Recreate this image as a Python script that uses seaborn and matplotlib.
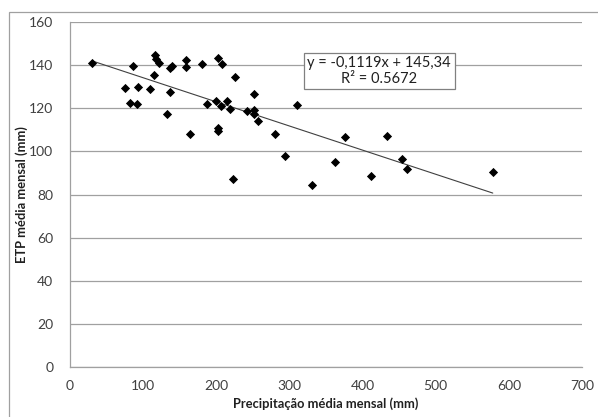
import numpy as np
import pandas as pd
import matplotlib
matplotlib.use('Agg')
import matplotlib.pyplot as plt
import seaborn as sns
from matplotlib.patches import Rectangle

# precipitação média mensal (mm) x ETP média mensal (mm)
precip = [30, 75, 82, 86, 92, 93, 110, 115, 116, 118, 121, 132, 137, 137, 140,
          158, 158, 164, 180, 187, 199, 203, 202, 202, 207, 208, 214, 219, 223,
          225, 242, 252, 252, 252, 257, 280, 294, 310, 331, 362, 376, 411, 434,
          454, 461, 578]
etp = [141, 129.2, 122.6, 139.8, 122, 130, 129, 135.5, 144.7, 143, 141, 117.5,
       127.5, 138.5, 139.6, 142.2, 139, 108, 140.5, 122, 123.4, 143.5, 111,
       109.5, 121, 140.5, 123.5, 119.5, 87, 134.5, 118.7, 126.5, 119, 117.5,
       114, 108, 98, 121.5, 84.5, 95, 106.5, 88.5, 107, 96.5, 92, 90.5]

slope = -0.1119
intercept = 145.34
eq_text = 'y = -0,1119x + 145,34\nR² = 0.5672'

df = pd.DataFrame({'precip': precip, 'etp': etp})

sns.set_style('white')
plt.rcParams['font.family'] = ['Lato', 'DejaVu Sans']

fig = plt.figure(figsize=(5.98, 4.17), dpi=100)
ax = fig.add_axes([70/598, 1 - 367/417, 512/598, 345/417])

# linha de tendência
xs = np.array([df['precip'].min(), df['precip'].max()])
ax.plot(xs, slope * xs + intercept, color='#404040', lw=0.8, zorder=2)

sns.scatterplot(data=df, x='precip', y='etp', marker='D', color='black',
                s=22, edgecolor='black', linewidth=0, ax=ax, zorder=3)

ax.set_xlim(0, 700)
ax.set_ylim(0, 160)
ax.set_xticks(range(0, 701, 100))
ax.set_yticks(range(0, 161, 20))
ax.yaxis.grid(True, color='#a0a0a0', lw=0.9)
ax.xaxis.grid(False)
for s in ['top', 'right']:
    ax.spines[s].set_visible(False)
for s in ['left', 'bottom']:
    ax.spines[s].set_color('#a0a0a0')
    ax.spines[s].set_linewidth(0.9)
ax.tick_params(axis='both', direction='out', length=4, width=0.9,
               color='#a0a0a0', labelsize=10, labelcolor='#404040', pad=3)
ax.tick_params(axis='x', pad=5)
ax.tick_params(axis='y', pad=8)

ax.set_xlabel('Precipitação média mensal (mm)', fontsize=9.3, fontweight='bold',
              color='#202020', labelpad=4)
ax.set_ylabel('ETP média mensal (mm)', fontsize=9.3, fontweight='bold',
              color='#202020')
ax.yaxis.set_label_coords(-0.082, 0.5)

ax.text(0.604, 0.858, eq_text, transform=ax.transAxes, ha='center', va='center',
        fontsize=10.5, color='#202020', linespacing=1.15, zorder=5,
        bbox=dict(boxstyle='square,pad=0.25', fc='white', ec='#808080', lw=0.9))

# moldura do gráfico
fig.add_artist(Rectangle((9/598, -0.05), 1.1, 1 - 12/417 + 0.05,
                         transform=fig.transFigure, fill=False,
                         ec='#a0a0a0', lw=0.9))

fig.savefig('out.png', dpi=100)
